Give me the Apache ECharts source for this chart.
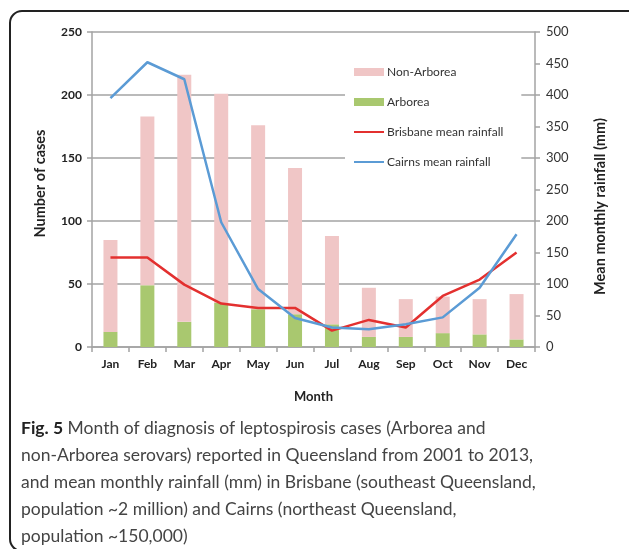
<!DOCTYPE html>
<html>
<head>
    <meta charset="UTF-8">
    <title>Leptospirosis cases and rainfall</title>
    <style>
        html, body { margin: 0; padding: 0; background: #fff; }
    </style>
</head>
<body>
    <div id="main" style="width: 629px;height:549px;"></div>
    <script src="https://cdn.jsdelivr.net/npm/echarts@6/dist/echarts.min.js"></script>
    <script type="text/javascript">
        // data
        var months = ['Jan', 'Feb', 'Mar', 'Apr', 'May', 'Jun', 'Jul', 'Aug', 'Sep', 'Oct', 'Nov', 'Dec'];
        var arborea = [12, 49, 20, 35, 30, 26, 18, 8, 8, 11, 10, 6];
        var nonArborea = [73, 134, 196, 166, 146, 116, 70, 39, 30, 29, 28, 36];
        var brisbaneRain = [142, 142, 99, 69, 62, 62, 26, 43, 31, 81, 107, 150];
        var cairnsRain = [395, 452, 425, 198, 92, 46, 31, 28, 36, 47, 94, 179];
        var casesTicks = [0, 250, 50];   // min, max, interval
        var rainTicks = [0, 500, 50];

        var myChart = echarts.init(document.getElementById('main'));

        var axisGray = '#a3a3a3';
        var labelFont = 'Lato';
        // hide the marker that echarts puts on line legend icons
        var noMarker = { opacity: 0 };

        var option = {
            animation: false,
            backgroundColor: '#fff',
            grid: { left: 92, right: 94, top: 32, bottom: 202 },
            legend: {
                orient: 'vertical',
                left: 345,
                top: 60,
                padding: [6, 18, 6, 8],
                backgroundColor: '#fff',
                itemWidth: 30,
                itemHeight: 8,
                itemGap: 18,
                data: [
                    { name: 'Non-Arborea', icon: 'rect' },
                    { name: 'Arborea', icon: 'rect' },
                    { name: 'Brisbane mean rainfall', itemStyle: noMarker },
                    { name: 'Cairns mean rainfall', itemStyle: noMarker }
                ],
                textStyle: { fontFamily: labelFont, fontSize: 12, color: '#333', padding: [0, 0, 0, -2] }
            },
            xAxis: {
                type: 'category',
                data: months,
                name: 'Month',
                nameLocation: 'middle',
                nameGap: 43,
                nameTextStyle: { fontFamily: labelFont, fontWeight: 'bold', fontSize: 13, color: '#222' },
                axisLine: { lineStyle: { color: axisGray, width: 1.5 } },
                axisTick: { show: true, length: 5, lineStyle: { color: axisGray, width: 1.5 } },
                axisLabel: { fontFamily: labelFont, fontWeight: 'bold', fontSize: 12, color: '#222', margin: 11 }
            },
            yAxis: [{
                type: 'value',
                min: casesTicks[0],
                max: casesTicks[1],
                interval: casesTicks[2],
                name: 'Number of cases',
                nameLocation: 'middle',
                nameGap: 44,
                nameTextStyle: { fontFamily: labelFont, fontWeight: 'bold', fontSize: 14.5, color: '#222', padding: [0, 0, 0, 12] },
                axisLine: { show: true, lineStyle: { color: axisGray, width: 1.5 } },
                axisTick: { show: true, length: 5, lineStyle: { color: axisGray, width: 1.5 } },
                axisLabel: { fontFamily: labelFont, fontWeight: 'bold', fontSize: 12, color: '#222', margin: 10 },
                splitLine: { show: true, lineStyle: { color: axisGray, width: 1.5 } }
            }, {
                type: 'value',
                position: 'right',
                min: rainTicks[0],
                max: rainTicks[1],
                interval: rainTicks[2],
                name: 'Mean monthly rainfall (mm)',
                nameLocation: 'middle',
                nameGap: 58,
                nameTextStyle: { fontFamily: labelFont, fontWeight: 'bold', fontSize: 14.5, color: '#222', padding: [0, 34, 0, 0] },
                axisLine: { show: true, lineStyle: { color: axisGray, width: 1.5 } },
                axisTick: { show: true, length: 5, lineStyle: { color: axisGray, width: 1.5 } },
                axisLabel: { fontFamily: labelFont, fontSize: 13, color: '#333', margin: 11 },
                splitLine: { show: false }
            }],
            series: [{
                name: 'Arborea',
                type: 'bar',
                stack: 'cases',
                barWidth: 14,
                itemStyle: { color: '#a9c86f' },
                data: arborea
            }, {
                name: 'Non-Arborea',
                type: 'bar',
                stack: 'cases',
                barWidth: 14,
                itemStyle: { color: '#f0c6c6' },
                data: nonArborea
            }, {
                name: 'Brisbane mean rainfall',
                type: 'line',
                yAxisIndex: 1,
                symbol: 'none',
                lineStyle: { color: '#e3302f', width: 2.5 },
                itemStyle: { color: '#e3302f' },
                data: brisbaneRain
            }, {
                name: 'Cairns mean rainfall',
                type: 'line',
                yAxisIndex: 1,
                symbol: 'none',
                lineStyle: { color: '#5b9bd5', width: 2.5 },
                itemStyle: { color: '#5b9bd5' },
                data: cairnsRain
            }],
            graphic: [{
                type: 'rect',
                shape: { x: 10, y: 11, width: 640, height: 540, r: 12 },
                style: { fill: 'none', stroke: '#222', lineWidth: 2 },
                silent: true
            }, {
                type: 'text',
                left: 21,
                top: 415,
                style: {
                    text: '{b|Fig. 5} Month of diagnosis of leptospirosis cases (Arborea and\n' +
                        'non-Arborea serovars) reported in Queensland from 2001 to 2013,\n' +
                        'and mean monthly rainfall (mm) in Brisbane (southeast Queensland,\n' +
                        'population ~2 million) and Cairns (northeast Queensland,\n' +
                        'population ~150,000)',
                    font: '17.5px Lato',
                    fill: '#444',
                    lineHeight: 27,
                    rich: {
                        b: { fontFamily: 'Lato', fontWeight: 'bold', fontSize: 17.5, fill: '#222', lineHeight: 27 }
                    }
                }
            }]
        };

        myChart.setOption(option);
    </script>
</body>
</html>
